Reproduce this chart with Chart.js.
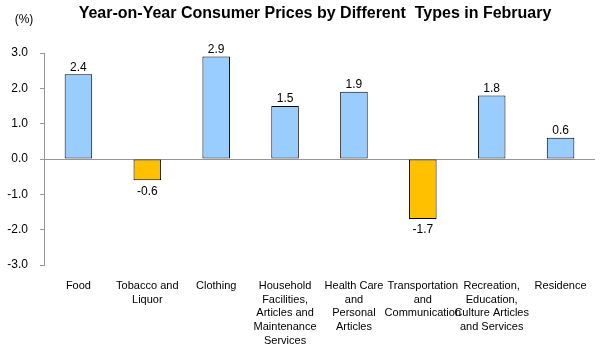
<!DOCTYPE html>
<html>
<head>
<meta charset="utf-8">
<script src="https://cdn.jsdelivr.net/npm/chart.js@4"></script>
<style>
  html, body { margin: 0; padding: 0; background: #fff; }
  #wrap { width: 605px; height: 350px; position: relative; }
</style>
</head>
<body>
<div id="wrap"><canvas id="cpi-chart"></canvas></div>
<script>
// ── Data ──────────────────────────────────────────────────────
const categories = [
  ['Food'],
  ['Tobacco and', 'Liquor'],
  ['Clothing'],
  ['Household', 'Facilities,', 'Articles and', 'Maintenance', 'Services'],
  ['Health Care', 'and', 'Personal', 'Articles'],
  ['Transportation', 'and', 'Communication'],
  ['Recreation,', 'Education,', 'Culture Articles', 'and Services'],
  ['Residence']
];
const yoyValues = [2.4, -0.6, 2.9, 1.5, 1.9, -1.7, 1.8, 0.6];
const yTicks = [-3, -2, -1, 0, 1, 2, 3];

const FONT = 'Arial, "Liberation Sans", sans-serif';
const AXIS_GREY = '#969696';

// ── Title, unit and value labels ─────────────────────────────
const decorPlugin = {
  id: 'decor',
  afterDatasetsDraw(chart) {
    const { ctx } = chart;
    ctx.save();
    ctx.fillStyle = '#000';
    ctx.textAlign = 'center';
    ctx.textBaseline = 'middle';
    ctx.font = 'bold 16px ' + FONT;
    ctx.fillText('Year-on-Year Consumer Prices by Different  Types in February', 315, 14);
    ctx.font = '12px ' + FONT;
    ctx.fillText('(%)', 24, 20);

    // value labels
    const meta = chart.getDatasetMeta(0);
    meta.data.forEach((bar, i) => {
      const v = yoyValues[i];
      if (v >= 0) {
        ctx.textBaseline = 'bottom';
        ctx.fillText(v.toFixed(1), bar.x, bar.y - 1);
      } else {
        ctx.textBaseline = 'top';
        ctx.fillText(v.toFixed(1), bar.x, bar.y + 5);
      }
    });
    ctx.restore();
  }
};

new Chart(document.getElementById('cpi-chart'), {
  type: 'bar',
  data: {
    labels: categories,
    datasets: [{
      data: yoyValues,
      backgroundColor: yoyValues.map(v => v < 0 ? '#FFC000' : '#99CCFF'),
      borderColor: '#000',
      borderWidth: 1,
      borderSkipped: false,
      categoryPercentage: 1,
      barPercentage: 0.4,
    }]
  },
  options: {
    responsive: true,
    maintainAspectRatio: false,
    animation: false,
    layout: { padding: { top: 53, right: 10, left: 0, bottom: 0 } },
    plugins: {
      legend: { display: false },
      tooltip: { enabled: false },
      title: { display: false }
    },
    scales: {
      x: {
        grid: { display: false },
        border: { display: false },
        ticks: {
          color: '#000',
          maxRotation: 0,
          autoSkip: false,
          padding: 6,
          font: { family: FONT, size: 11, lineHeight: 1.25 }
        },
        afterFit: s => { s.height = 85; }
      },
      y: {
        min: -3,
        max: 3,
        afterBuildTicks: s => { s.ticks = yTicks.map(v => ({ value: v })); },
        grid: {
          color: c => c.tick && c.tick.value === 0 ? AXIS_GREY : 'transparent',
          tickColor: AXIS_GREY,
          tickLength: 4,
          lineWidth: 1
        },
        border: { color: AXIS_GREY, width: 1 },
        ticks: {
          color: '#000',
          padding: 12,
          font: { family: FONT, size: 12 },
          callback: v => v.toFixed(1)
        },
        afterFit: s => { s.width = 44; }
      }
    }
  },
  plugins: [decorPlugin]
});
</script>
</body>
</html>
